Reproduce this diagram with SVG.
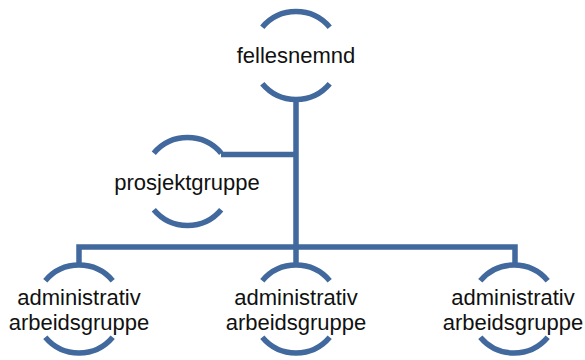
<svg xmlns="http://www.w3.org/2000/svg" width="585" height="360" viewBox="0 0 585 360">
<style>
.arc{fill:none;stroke:#41699D;stroke-width:5.5}
.con{fill:none;stroke:#41699D;stroke-width:5.5;stroke-linejoin:miter}
text{font-family:"Liberation Sans",Arial,sans-serif;font-size:22px;fill:#111;text-anchor:middle}
</style>
<defs>
<g id="ring">
<path class="arc" d="M-33.7 -28.3 A44 44 0 0 1 33.7 -28.3"/>
<path class="arc" d="M-33.7 28.3 A44 44 0 0 0 33.7 28.3"/>
</g>
</defs>
<g id="connectors">
<path class="con" d="M296 99 V247"/>
<path class="con" d="M221 154.5 H296"/>
<path class="con" d="M79 266 V247 H515 V266"/>
<path class="con" d="M296 247 V266"/>
</g>
<g id="fellesnemnd">
<use href="#ring" x="296" y="55.5"/>
<text x="296" y="63">fellesnemnd</text>
</g>
<g id="prosjektgruppe">
<use href="#ring" x="187.5" y="181.5"/>
<text x="187" y="190">prosjektgruppe</text>
</g>
<g id="admin1">
<use href="#ring" x="79" y="309"/>
<text x="79" y="305">administrativ</text>
<text x="79" y="330">arbeidsgruppe</text>
</g>
<g id="admin2">
<use href="#ring" x="296" y="309"/>
<text x="296" y="305">administrativ</text>
<text x="296" y="330">arbeidsgruppe</text>
</g>
<g id="admin3">
<use href="#ring" x="514" y="309"/>
<text x="513" y="305">administrativ</text>
<text x="513" y="330">arbeidsgruppe</text>
</g>
</svg>
